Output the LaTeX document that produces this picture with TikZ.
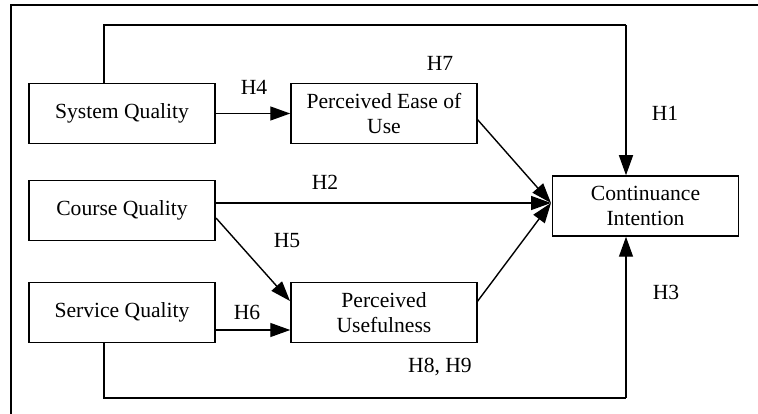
\documentclass[tikz,border=0pt]{standalone}
\usepackage{fontspec}
\setmainfont{Liberation Serif}
\usetikzlibrary{arrows.meta}
\begin{document}
\begin{tikzpicture}[x=1pt,y=-1pt,
  box/.style={draw,line width=1.5pt,minimum width=186pt,minimum height=60pt,inner sep=2pt,align=center,font=\fontsize{21.6}{25.5}\selectfont},
  lbl/.style={font=\fontsize{21.6}{25.5}\selectfont,inner sep=0pt},
  conn/.style={line width=1.4pt,-{Triangle[length=20pt,width=14pt]}},
  plain/.style={line width=1.4pt}]
\useasboundingbox (0,0) rectangle (758,414);
\draw[line width=2.6pt] (11,414) -- (11,5) -- (758,5);
\node[box] (sq) at (122,113.5) {System Quality};
\node[box] (cq) at (122,210.5) {Course Quality};
\node[box] (svq) at (122,312.5) {Service Quality};
\node[box] (peou) at (384,113.5) {Perceived Ease of\\Use};
\node[box] (pu) at (384,312.5) {Perceived\\Usefulness};
\node[box] (ci) at (645.5,206) {Continuance\\Intention};
\coordinate (tl) at (104,25);
\coordinate (tr) at (626,25);
\coordinate (bl) at (104,398);
\coordinate (br) at (626,398);
\coordinate (cin) at (551,203);
\coordinate (cqs) at (216,218);
\coordinate (put) at (290,301);
\coordinate (peos) at (477,119);
\coordinate (pus) at (477,302);
\draw[plain] (sq.north -| tl) -- (tl) -- (tr);
\draw[conn] (tr) -- (tr |- ci.north);
\draw[plain] (svq.south -| bl) -- (bl) -- (br);
\draw[conn] (br) -- (br |- ci.south);
\draw[conn] (sq.east) -- (peou.west);
\draw[conn] (svq.east |- 0,330) -- (pu.west |- 0,330);
\draw[conn] (cq.east |- cin) -- (cin);
\draw[conn] (cqs) -- (put);
\draw[conn] (peos) -- (cin);
\draw[conn] (pus) -- (cin);
\node[lbl] (h4) at (254,87) {H4};
\node[lbl] (h7) at (440,63) {H7};
\node[lbl] (h1) at (665,113) {H1};
\node[lbl] (h2) at (325,182) {H2};
\node[lbl] (h5) at (287,241) {H5};
\node[lbl] (h6) at (247,312) {H6};
\node[lbl] (h3) at (666,292) {H3};
\node[lbl] (h89) at (440,367) {H8, H9};
\end{tikzpicture}
\end{document}
